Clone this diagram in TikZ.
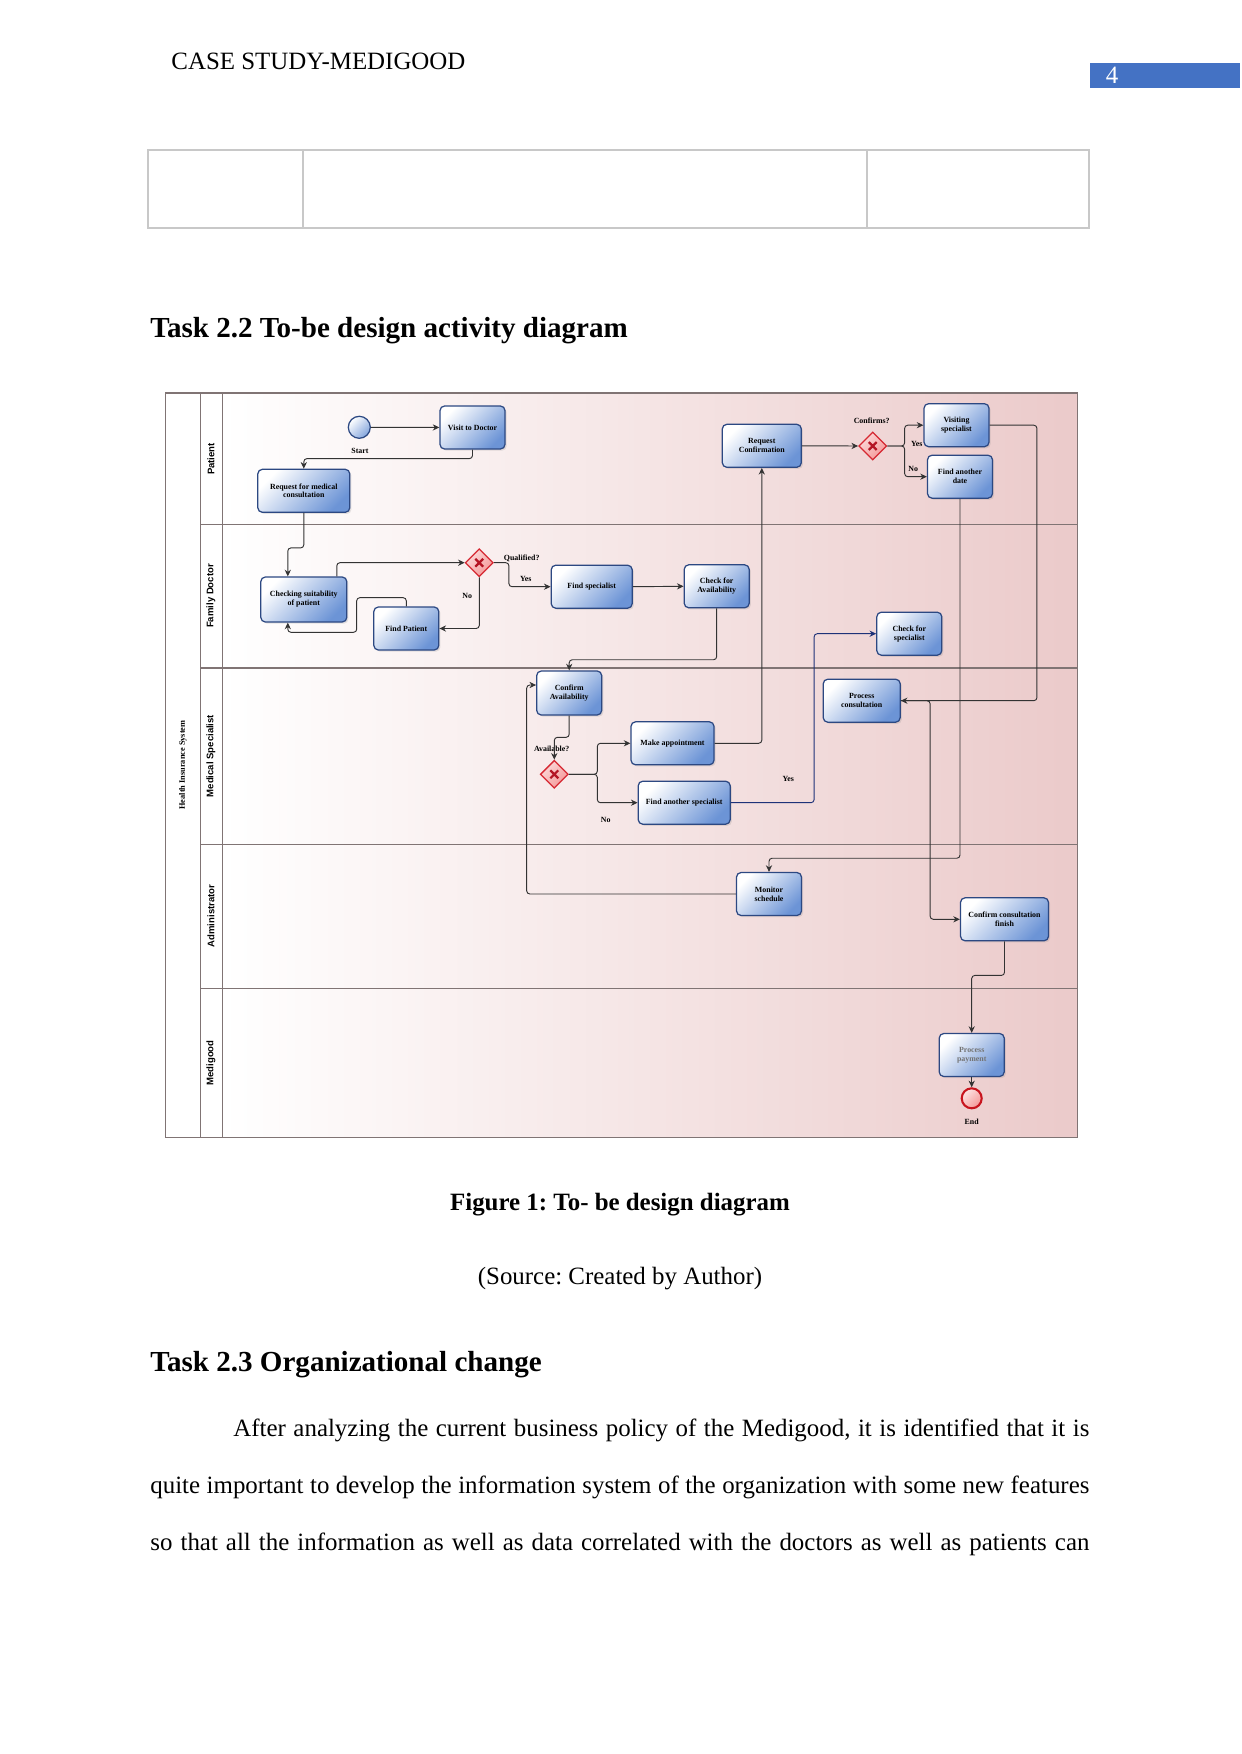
\documentclass[tikz,border=0pt]{standalone}
\usepackage{fontspec}
\setmainfont{Liberation Serif}
\setsansfont{Liberation Sans}
\usetikzlibrary{calc,shapes.geometric,arrows.meta,shadows}
\frenchspacing

\definecolor{taskblue}{RGB}{108,148,214}
\definecolor{taskline}{RGB}{44,72,130}
\definecolor{bgpink}{RGB}{235,202,202}
\definecolor{gwfill}{RGB}{244,150,150}
\definecolor{gwline}{RGB}{214,40,50}
\definecolor{gwcross}{RGB}{180,20,35}
\definecolor{endred}{RGB}{200,20,30}
\definecolor{lanegray}{RGB}{128,116,116}
\definecolor{tablegray}{RGB}{200,200,200}
\definecolor{pagebox}{RGB}{68,114,196}
\definecolor{navyflow}{RGB}{30,50,120}

\newcommand{\pxu}{0.4818pt}

\tikzset{
  task/.style={rectangle, rounded corners=2.2pt, draw=taskline, line width=0.6pt,
    top color=white, bottom color=taskblue, shading angle=45,
    minimum width=65*\pxu, minimum height=43*\pxu, inner sep=1pt, align=center,
    font=\fontsize{3.8}{4.3}\selectfont\bfseries,
    drop shadow={opacity=0.2, shadow xshift=0.8pt, shadow yshift=-0.8pt}},
  gateway/.style={diamond, draw=gwline, line width=0.6pt,
    top color=gwfill!35, bottom color=gwfill, shading angle=45,
    minimum width=28*\pxu, minimum height=28*\pxu, inner sep=0pt,
    path picture={
      \draw[gwcross, line width=1.1pt]
        ([shift={(-1.9pt,-1.9pt)}]path picture bounding box.center) -- ([shift={(1.9pt,1.9pt)}]path picture bounding box.center)
        ([shift={(-1.9pt,1.9pt)}]path picture bounding box.center) -- ([shift={(1.9pt,-1.9pt)}]path picture bounding box.center);
    }},
  flow/.style={draw=black!80, line width=0.45pt, rounded corners=1.5pt,
    -{Stealth[length=3.2pt,width=3pt]}},
  tag/.style={font=\fontsize{3.8}{4.3}\selectfont\bfseries, inner sep=0pt},
  lane/.style={rotate=90, font=\fontsize{4.6}{5}\selectfont\sffamily\bfseries, inner sep=0pt},
  body/.style={inner sep=0pt, font=\fontsize{12}{14}\selectfont}
}

\begin{document}
\begin{tikzpicture}[x=0.4818pt, y=-0.4818pt]
    \useasboundingbox (0,0) rectangle (1241,1754);

    % Running head and page number
    \node[body, anchor=west] (head) at (171,61) {CASE STUDY-MEDIGOOD};
    \fill[pagebox] (1090,63) rectangle (1240,88);
    \node[body, text=white] (pgnum) at (1112,75) {4};

    % Empty table row left over from the previous page
    \draw[tablegray, line width=0.5pt] (148,150) rectangle (1089,228);
    \draw[tablegray, line width=0.5pt] (303,150) -- (303,228);
    \draw[tablegray, line width=0.5pt] (867,150) -- (867,228);

    % Section heading
    \node[body, anchor=west, font=\fontsize{14}{16}\selectfont\bfseries] (sec22) at (150,331) {Task 2.2 To-be design activity diagram};

    % Pool background, frame and lane dividers
    \shade[left color=white, right color=bgpink] (222.3,393) rectangle (1077.3,1137.3);
    \draw[lanegray, line width=0.5pt] (165.7,393) rectangle (1077.3,1137.3);
    \draw[lanegray, line width=0.5pt] (200.7,393) -- (200.7,1137.3);
    \draw[lanegray, line width=0.5pt] (222.3,393) -- (222.3,1137.3);
    \draw[lanegray, line width=0.5pt] (200.7,524.7) -- (1077.3,524.7);
    \draw[lanegray, line width=0.5pt] (200.7,668) -- (1077.3,668);
    \draw[lanegray, line width=0.5pt] (200.7,844.3) -- (1077.3,844.3);
    \draw[lanegray, line width=0.5pt] (200.7,988.3) -- (1077.3,988.3);

    % Pool and lane names
    \node[lane, font=\fontsize{4}{5}\selectfont\rmfamily\bfseries] (pool) at (183,765) {Health Insurance System};
    \node[lane] (lpat) at (211,459) {Patient};
    \node[lane] (ldoc) at (211,596) {Family Doctor};
    \node[lane] (lspec) at (211,756) {Medical Specialist};
    \node[lane] (ladm) at (211,916) {Administrator};
    \node[lane] (lmed) at (211,1063) {Medigood};

    % Patient lane
    \node[circle, draw=taskline, line width=0.6pt, top color=white, bottom color=taskblue!85,
      shading angle=45, minimum size=22*\pxu, inner sep=0pt] (start) at (359.3,427.3) {};
    \node[tag] (startl) at (360,451) {Start};
    \node[task] (visit) at (472.5,427.5) {Visit to Doctor};
    \node[task, minimum width=92*\pxu] (req) at (303.8,490.8) {Request for medical\\consultation};
    \node[task, minimum width=79*\pxu] (reqconf) at (761.8,445.8) {Request\\Confirmation};
    \node[gateway] (gwconf) at (872.7,446) {};
    \node[tag] (gwconfl) at (871.7,420.7) {Confirms?};
    \node[task] (visiting) at (956.5,425.2) {Visiting\\specialist};
    \node[task] (finddate) at (960,476.7) {Find another\\date};

    % Family doctor lane
    \node[task, minimum width=86*\pxu, minimum height=45*\pxu] (checking) at (303.8,599.5) {Checking suitability\\of patient};
    \node[task] (findpat) at (406.3,628.5) {Find Patient};
    \node[gateway] (gwqual) at (479.3,562.7) {};
    \node[tag] (gwquall) at (521.7,558) {Qualified?};
    \node[task, minimum width=81*\pxu] (findspec) at (591.7,586.7) {Find specialist};
    \node[task] (checkavail) at (716.7,586.3) {Check for\\Availability};
    \node[task] (checkspec) at (909.3,633.7) {Check for\\specialist};

    % Medical specialist lane
    \node[task, minimum height=44*\pxu] (confavail) at (569.2,693) {Confirm\\Availability};
    \node[gateway] (gwavail) at (554.3,774.3) {};
    \node[tag] (gwavaill) at (551.7,749) {Available?};
    \node[task, minimum width=83*\pxu] (makeapp) at (672.5,743.3) {Make appointment};
    \node[task, minimum width=92*\pxu] (findother) at (684.2,802.7) {Find another specialist};
    \node[task, minimum width=77*\pxu] (proccons) at (861.7,700.7) {Process\\consultation};

    % Administrator lane
    \node[task] (monitor) at (769,894) {Monitor\\schedule};
    \node[task, minimum width=88*\pxu] (confcons) at (1004.5,919.3) {Confirm consultation\\finish};

    % Medigood lane
    \node[task, text=black!55] (procpay) at (971.7,1055) {Process\\payment};
    \node[circle, draw=endred, line width=1pt, top color=gwfill!25, bottom color=gwfill,
      shading angle=45, minimum size=20*\pxu, inner sep=0pt] (endev) at (971.7,1098.3) {};
    \node[tag] (endl) at (971.7,1121.7) {End};

    % Flows in the patient and doctor lanes
    \draw[flow] (start) -- (visit);
    \draw[flow] (visit.south) -- ++(0,9) -| (req.north);
    \draw[flow] (req.south) -- ++(0,35) -| ($(checking.north)+(-16,0)$);
    \draw[flow] ($(checking.north)+(33,0)$) |- (gwqual.west);
    \draw[flow] (gwqual.east) -- ++(15,0) |- (findspec.west);
    \node[tag] (yes1) at (525.7,579) {Yes};
    \draw[flow] (gwqual.south) |- (findpat.east);
    \node[tag] (no1) at (467.3,596) {No};
    \draw[flow] (findpat.north) -- ++(0,-8.7) -| (356.7,632.3) -| ($(checking.south)+(-16,0)$);
    \draw[flow] (findspec.east) -- (checkavail.west);
    \draw[flow] (checkavail.south) -- ++(0,51.3) -| (confavail.north);

    % Flows in the specialist lane
    \draw[flow] (confavail.south) -- ++(0,21.7) -| (gwavail.north);
    \draw[flow] (gwavail.east) -- ++(28.4,0) |- (makeapp.west);
    \draw[flow] (gwavail.east) -- ++(28.4,0) |- (findother.west);
    \node[tag] (no2) at (605.7,820) {No};
    \draw[flow] (makeapp.east) -| (reqconf.south);
    \draw[flow, draw=navyflow] (findother.east) -- ++(83.3,0) |- (checkspec.west);
    \node[tag] (yes2) at (788.3,779.3) {Yes};

    % Confirmation branch
    \draw[flow] (reqconf.east) -- (gwconf.west);
    \draw[flow] (gwconf.east) -- ++(17.3,0) |- (visiting.west);
    \draw[flow] (gwconf.east) -- ++(17.3,0) |- (finddate.west);
    \node[tag] (yes3) at (916.7,444) {Yes};
    \node[tag] (no3) at (913.3,469) {No};
    \draw[flow] (visiting.east) -- ++(47.3,0) |- (proccons.east);
    \draw[flow] (finddate.south) -- ++(0,359.4) -| (monitor.north);
    \draw[flow] (monitor.west) -| (526.7,685) -- ($(confavail.west)+(0,-8)$);

    % Closing flows
    \draw[flow] (proccons.east) -- ++(29.3,0) |- (confcons.west);
    \draw[flow] (confcons.south) -- ++(0,34) -| (procpay.north);
    \draw[flow] (procpay.south) -- (endev.north);

    % Caption and source
    \node[body, font=\fontsize{12}{14}\selectfont\bfseries] (cap) at (620,1205) {Figure 1: To- be design diagram};
    \node[body] (src) at (620,1279) {(Source: Created by Author)};

    % Next section
    \node[body, anchor=west, font=\fontsize{14}{16}\selectfont\bfseries] (sec23) at (150,1365) {Task 2.3 Organizational change};
    \node[body, anchor=west] (par1) at (233,1430) {\hbox to 412.4pt{After analyzing the current business policy of the Medigood, it is identified that it is}};
    \node[body, anchor=west] (par2) at (150,1487) {\hbox to 452.4pt{quite important to develop the information system of the organization with some new features}};
    \node[body, anchor=west] (par3) at (150,1544) {\hbox to 452.4pt{so that all the information as well as data correlated with the doctors as well as patients can}};
\end{tikzpicture}
\end{document}
